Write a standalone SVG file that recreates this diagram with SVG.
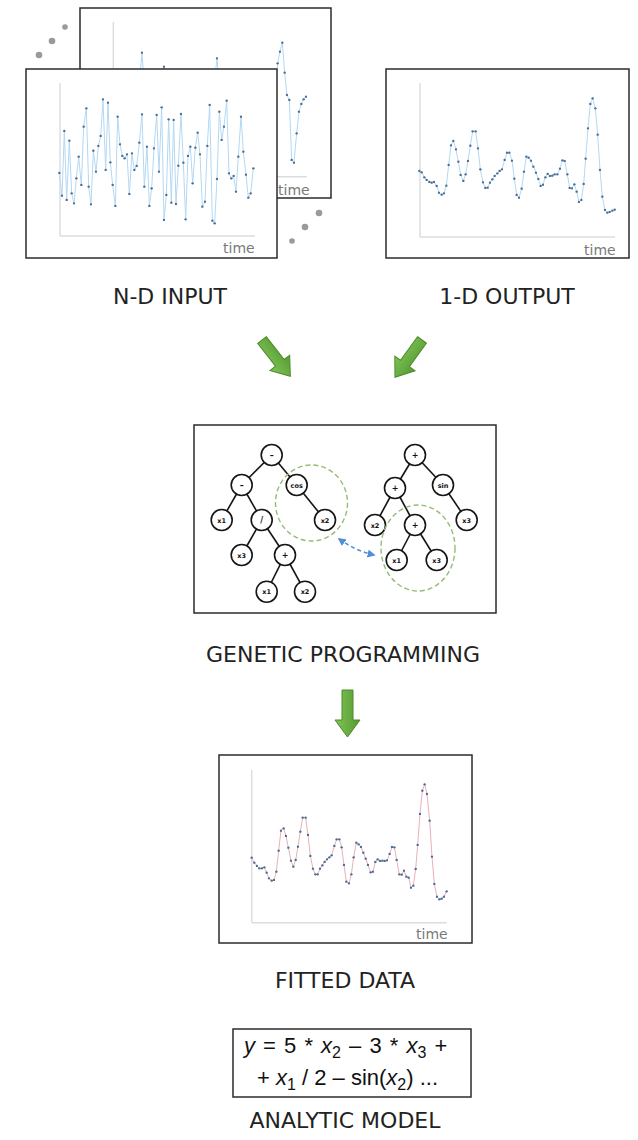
<svg xmlns="http://www.w3.org/2000/svg" width="638" height="1140" viewBox="0 0 638 1140">
<style>
.frame{fill:#fff;stroke:#2b2b2b;stroke-width:1.5}
.axis{stroke:#dcdcdc;stroke-width:1.4;fill:none}
.tick{font-family:"DejaVu Sans",sans-serif;font-size:14px;fill:#7a7a7a}
.label{font-family:"DejaVu Sans",sans-serif;font-size:22px;fill:#222;text-anchor:middle}
.series{fill:none;stroke:#b4d8f2;stroke-width:3;stroke-linejoin:round;marker-start:url(#dot);marker-mid:url(#dot);marker-end:url(#dot)}
.fit{stroke:#eab0b8}
.gdot{fill:#9a9a9a}
.edge{stroke:#151515;stroke-width:1.6}
.tn{fill:#fff;stroke:#151515;stroke-width:1.6}
.tl{font-family:"DejaVu Sans",sans-serif;font-size:6.5px;font-weight:bold;fill:#111;text-anchor:middle}
.op{font-size:8px}
.sel{fill:none;stroke:#94bb78;stroke-width:1.4;stroke-dasharray:5 3}
.garrow{fill:url(#gg);stroke:#4c8a2a;stroke-width:1}
.eq{font-family:"Liberation Sans",Arial,sans-serif;font-size:22px;fill:#111}
</style>
<defs>
<marker id="dot" markerUnits="userSpaceOnUse" viewBox="0 0 10 10" refX="5" refY="5" markerWidth="9" markerHeight="9">
<circle cx="5" cy="5" r="4" fill="#4a6e96"/>
</marker>
<marker id="bhead" markerUnits="userSpaceOnUse" viewBox="0 0 10 10" refX="8" refY="5" markerWidth="8" markerHeight="8" orient="auto-start-reverse">
<path d="M0,0 L10,5 L0,10 z" fill="#4f8fd4"/>
</marker>
<linearGradient id="gg" x1="0" y1="0" x2="1" y2="0">
<stop offset="0" stop-color="#80c455"/>
<stop offset="1" stop-color="#559a33"/>
</linearGradient>
</defs>

<g id="nd-input">
<rect class="frame" x="80" y="8" width="251" height="190"/>
<line class="axis" x1="113.3" y1="21.7" x2="113.3" y2="176.7"/>
<line class="axis" x1="113.3" y1="176.7" x2="306.7" y2="176.7"/>
<text class="tick" x="278" y="195">time</text>
<g transform="translate(20,0) scale(0.33333)">
<polyline class="series" points="290,430 297,480 304,390 311,520 318,450 325,380 332,470 340,300 347,420 354,350 359,240 366,158 373,260 380,400 388,330 395,470 402,380 410,300 417,350 425,240 432,200 439,290 446,420 453,360 461,480 468,330 475,400 483,460 490,350 497,300 504,420 511,380 518,470 526,330 533,260 540,410 547,360 555,300 562,440 569,380 577,290 584,240 591,175 598,260 605,390 612,450 620,330 627,400 634,470 641,380 648,300 655,420 663,360 670,470 678,390 685,330 692,280 700,420 707,380 714,300 722,460 729,400 736,350 744,300 751,420 758,330 766,260 773,190 780,155 787,128 794,218 801,285 808,300 815,480 822,488 830,400 837,335 844,312 851,298 858,290"/>
</g>
<rect class="frame" x="26" y="69" width="251" height="189"/>
<line class="axis" x1="60" y1="83" x2="60" y2="236"/>
<line class="axis" x1="60" y1="236" x2="255" y2="236"/>
<text class="tick" x="223" y="253">time</text>
<g transform="translate(20,0) scale(0.33333)">
<polyline class="series" points="118,519 126,587 133,393 140,600 148,422 155,580 162,610 169,535 176,470 184,555 191,380 199,325 206,560 213,613 220,452 228,515 235,438 242,408 249,298 257,510 264,308 271,487 278,555 286,618 293,350 300,433 307,468 314,475 321,463 328,582 336,460 343,510 350,498 358,428 366,343 373,560 381,440 388,618 395,565 402,445 410,345 417,515 425,322 432,660 439,585 446,358 454,608 461,360 468,612 475,497 483,342 490,488 497,658 504,468 511,440 518,550 526,443 533,398 540,463 547,620 555,605 562,438 569,315 577,662 584,670 591,537 598,335 605,420 612,380 620,302 627,520 634,535 641,528 648,575 655,470 663,350 670,455 678,524 685,593 692,580 700,505"/>
</g>
<circle class="gdot" cx="39" cy="55" r="3.3"/>
<circle class="gdot" cx="52" cy="41" r="3.3"/>
<circle class="gdot" cx="65" cy="27" r="2.8"/>
<circle class="gdot" cx="319" cy="213" r="3.3"/>
<circle class="gdot" cx="305" cy="227" r="3.3"/>
<circle class="gdot" cx="292" cy="241" r="2.8"/>
<text class="label" x="170" y="304">N-D INPUT</text>
</g>

<g id="od-output">
<rect class="frame" x="386" y="69" width="243" height="189"/>
<line class="axis" x1="420" y1="83" x2="420" y2="237"/>
<line class="axis" x1="420" y1="237" x2="615" y2="237"/>
<text class="tick" x="584" y="255">time</text>
<g transform="translate(380,60) scale(0.33333)">
<polyline class="series" points="118,333 125,337 133,352 140,360 148,366 155,368 162,366 170,378 177,398 185,404 192,400 199,377 206,315 213,256 220,243 228,268 235,305 242,345 250,363 257,343 264,303 271,257 278,214 287,214 294,265 301,328 309,367 316,384 323,383 330,368 337,358 344,348 352,340 359,333 366,328 374,300 381,278 388,278 396,302 403,356 410,405 417,413 425,386 432,335 439,290 446,293 453,302 460,320 468,338 475,357 482,378 489,374 496,352 503,342 510,348 517,347 524,343 532,343 540,326 547,301 554,303 562,343 569,384 576,385 583,373 590,395 597,426 604,420 611,372 617,296 624,205 631,132 638,115 646,145 653,224 660,330 667,410 675,450 682,458 689,456 697,452 704,449"/>
</g>
<text class="label" x="507" y="304">1-D OUTPUT</text>
</g>

<g id="genetic-programming">
<rect class="frame" x="194" y="425" width="302" height="188"/>
<g>
<line class="edge" x1="271.7" y1="455" x2="241.7" y2="485"/>
<line class="edge" x1="271.7" y1="455" x2="296.7" y2="485"/>
<line class="edge" x1="241.7" y1="485" x2="221.7" y2="520"/>
<line class="edge" x1="241.7" y1="485" x2="261.7" y2="520"/>
<line class="edge" x1="296.7" y1="485" x2="325" y2="520"/>
<line class="edge" x1="261.7" y1="520" x2="241.7" y2="555"/>
<line class="edge" x1="261.7" y1="520" x2="285" y2="555"/>
<line class="edge" x1="285" y1="555" x2="266.7" y2="591.7"/>
<line class="edge" x1="285" y1="555" x2="305" y2="591.7"/>
<line class="edge" x1="415" y1="455" x2="395" y2="488"/>
<line class="edge" x1="415" y1="455" x2="443" y2="485"/>
<line class="edge" x1="395" y1="488" x2="375" y2="525"/>
<line class="edge" x1="395" y1="488" x2="415" y2="525"/>
<line class="edge" x1="443" y1="485" x2="466.7" y2="520"/>
<line class="edge" x1="415" y1="525" x2="396.7" y2="560"/>
<line class="edge" x1="415" y1="525" x2="436.7" y2="560"/>
</g>
<g>
<circle class="tn" cx="271.7" cy="455" r="10.5"/><text class="tl op" x="271.7" y="458">–</text>
<circle class="tn" cx="241.7" cy="485" r="10.5"/><text class="tl op" x="241.7" y="488">–</text>
<circle class="tn" cx="296.7" cy="485" r="10.5"/><text class="tl" x="296.7" y="487.5">cos</text>
<circle class="tn" cx="221.7" cy="520" r="10.5"/><text class="tl" x="221.7" y="522.5">x1</text>
<circle class="tn" cx="261.7" cy="520" r="10.5"/><text class="tl op" x="261.7" y="523">/</text>
<circle class="tn" cx="325" cy="520" r="10.5"/><text class="tl" x="325" y="522.5">x2</text>
<circle class="tn" cx="241.7" cy="555" r="10.5"/><text class="tl" x="241.7" y="557.5">x3</text>
<circle class="tn" cx="285" cy="555" r="10.5"/><text class="tl op" x="285" y="558">+</text>
<circle class="tn" cx="266.7" cy="591.7" r="10.5"/><text class="tl" x="266.7" y="594.2">x1</text>
<circle class="tn" cx="305" cy="591.7" r="10.5"/><text class="tl" x="305" y="594.2">x2</text>
<circle class="tn" cx="415" cy="455" r="10.5"/><text class="tl op" x="415" y="458">+</text>
<circle class="tn" cx="395" cy="488" r="10.5"/><text class="tl op" x="395" y="491">+</text>
<circle class="tn" cx="443" cy="485" r="10.5"/><text class="tl" x="443" y="487.5">sin</text>
<circle class="tn" cx="375" cy="525" r="10.5"/><text class="tl" x="375" y="527.5">x2</text>
<circle class="tn" cx="415" cy="525" r="10.5"/><text class="tl op" x="415" y="528">+</text>
<circle class="tn" cx="466.7" cy="520" r="10.5"/><text class="tl" x="466.7" y="522.5">x3</text>
<circle class="tn" cx="396.7" cy="560" r="10.5"/><text class="tl" x="396.7" y="562.5">x1</text>
<circle class="tn" cx="436.7" cy="560" r="10.5"/><text class="tl" x="436.7" y="562.5">x3</text>
</g>
<ellipse class="sel" cx="311.5" cy="503" rx="36" ry="38"/>
<ellipse class="sel" cx="418" cy="548" rx="37" ry="43"/>
<path d="M339,539 Q356,551 374,555" fill="none" stroke="#4f8fd4" stroke-width="1.5" stroke-dasharray="4 3" marker-start="url(#bhead)" marker-end="url(#bhead)"/>
<text class="label" x="343" y="662">GENETIC PROGRAMMING</text>
</g>

<g id="fitted-data">
<rect class="frame" x="219" y="755" width="253" height="188"/>
<line class="axis" x1="251.7" y1="770" x2="251.7" y2="922.7"/>
<line class="axis" x1="251.7" y1="922.7" x2="446.7" y2="922.7"/>
<text class="tick" x="416" y="939">time</text>
<g transform="translate(215,750) scale(0.33333)">
<polyline class="series fit" points="110,323 118,338 126,348 133,355 141,355 148,352 155,368 162,385 170,392 177,390 184,365 191,302 198,242 206,235 213,258 220,293 228,332 235,350 242,330 249,290 256,245 263,203 272,203 279,255 286,318 294,356 301,373 308,373 315,356 322,346 329,336 336,328 343,322 350,316 358,288 365,268 373,268 380,292 387,345 394,395 402,400 409,373 416,322 424,278 431,283 438,291 445,308 452,326 459,345 467,367 474,365 481,336 488,328 495,333 502,332 509,333 516,331 524,312 531,291 538,292 545,330 553,373 560,374 567,362 574,380 581,383 588,413 595,407 602,357 608,285 615,192 622,122 629,103 636,132 644,212 651,320 658,402 666,440 673,448 680,446 687,440 695,424"/>
</g>
<text class="label" x="345" y="988">FITTED DATA</text>
</g>

<g id="analytic-model">
<rect x="233" y="1029" width="238" height="68" fill="#fff" stroke="#2b2b2b" stroke-width="1.5"/>
<text class="eq" x="244" y="1053" word-spacing="2"><tspan font-style="italic">y</tspan> = 5 * <tspan font-style="italic">x</tspan><tspan font-size="16" dy="5">2</tspan><tspan dy="-5"> – 3 * </tspan><tspan font-style="italic">x</tspan><tspan font-size="16" dy="5">3</tspan><tspan dy="-5"> +</tspan></text>
<text class="eq" x="257" y="1085">+ <tspan font-style="italic">x</tspan><tspan font-size="16" dy="5">1</tspan><tspan dy="-5"> / 2 – sin(</tspan><tspan font-style="italic">x</tspan><tspan font-size="16" dy="5">2</tspan><tspan dy="-5">) ...</tspan></text>
<text class="label" x="345" y="1128">ANALYTIC MODEL</text>
</g>

<g id="connectors">
<polygon class="garrow" transform="translate(262,340) rotate(-38)" points="-5.5,0 5.5,0 5.5,29 12.5,29 0,46 -12.5,29 -5.5,29"/>
<polygon class="garrow" transform="translate(422,340) rotate(36)" points="-5.5,0 5.5,0 5.5,29 12.5,29 0,46 -12.5,29 -5.5,29"/>
<polygon class="garrow" transform="translate(347.5,690)" points="-5.5,0 5.5,0 5.5,30 12.5,30 0,47 -12.5,30 -5.5,30"/>
</g>
</svg>
